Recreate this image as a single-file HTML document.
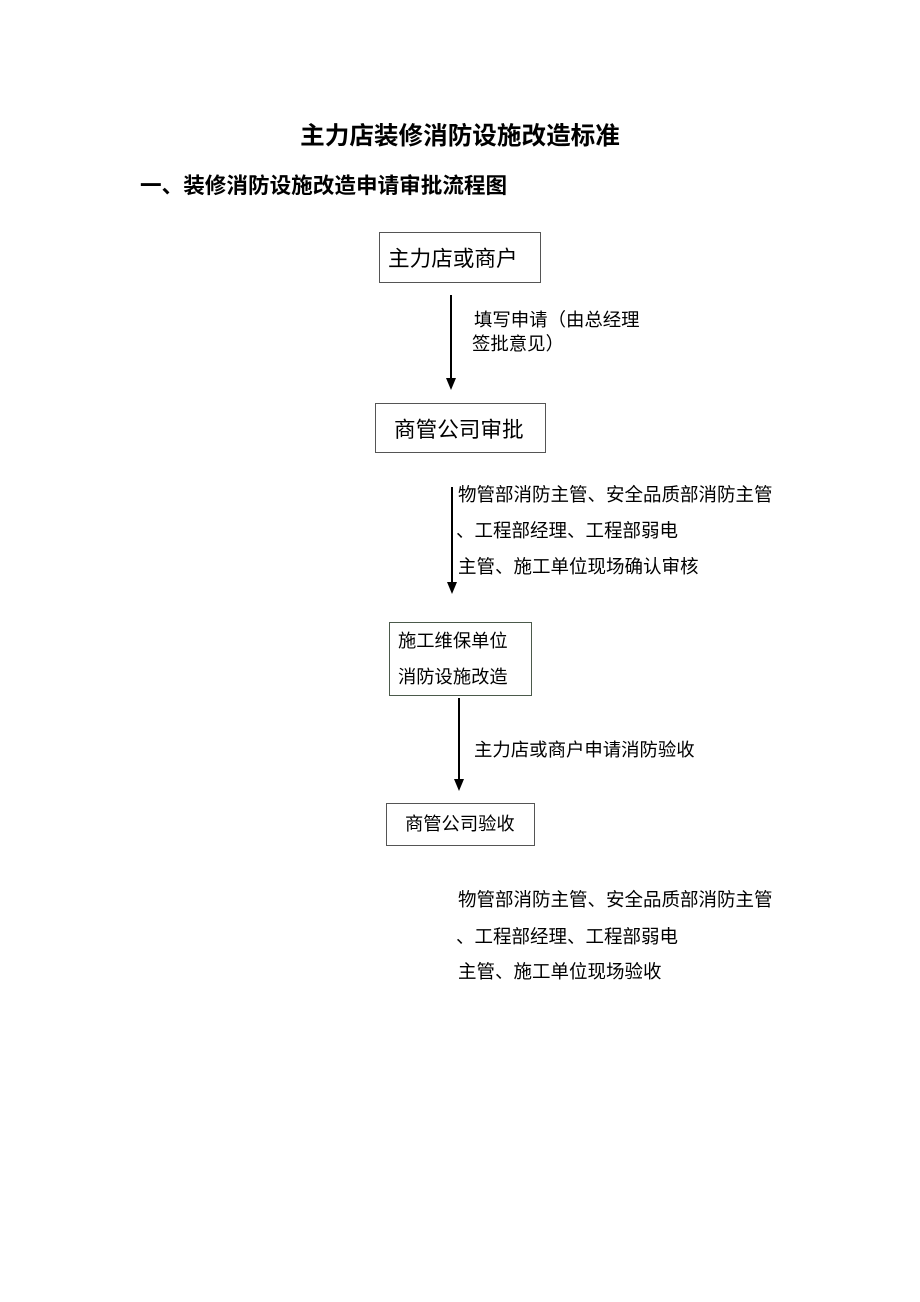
<!DOCTYPE html>
<html><head><meta charset="utf-8"><style>
body{margin:0;width:920px;height:1302px;background:#fff;position:relative;font-family:"Liberation Sans","Noto Sans CJK SC",sans-serif;color:#000;overflow:hidden}
.t{position:absolute;white-space:nowrap;line-height:1}
.b{position:absolute;box-sizing:border-box;border:1px solid #555}
.v{position:absolute;width:2px;background:#000}
.ah{position:absolute;width:0;height:0;border-left:5px solid transparent;border-right:5px solid transparent;border-top:12px solid #000}
</style></head><body>
<div class="t" style="left:0;width:920px;text-align:center;top:125px;font-size:24.6px;font-weight:bold">主力店装修消防设施改造标准</div>
<div class="t" style="left:140px;top:175px;font-size:21.6px;font-weight:bold">一、装修消防设施改造申请审批流程图</div>

<div class="b" style="left:379px;top:232px;width:162px;height:51px"></div>
<div class="t" style="left:388px;top:248px;font-size:21.6px">主力店或商户</div>
<div class="v" style="left:450px;top:295px;height:84px"></div>
<div class="ah" style="left:446px;top:378px"></div>
<div class="t" style="left:474px;top:311px;font-size:18.4px">填写申请（由总经理</div>
<div class="t" style="left:472px;top:335px;font-size:18.4px">签批意见）</div>

<div class="b" style="left:375px;top:403px;width:171px;height:50px"></div>
<div class="t" style="left:394px;top:419px;font-size:21.6px">商管公司审批</div>
<div class="v" style="left:451px;top:487px;height:96px"></div>
<div class="ah" style="left:447px;top:582px"></div>
<div class="t" style="left:458px;top:486px;font-size:18.5px">物管部消防主管、安全品质部消防主管</div>
<div class="t" style="left:456px;top:522px;font-size:18.5px">、工程部经理、工程部弱电</div>
<div class="t" style="left:458px;top:558px;font-size:18.5px">主管、施工单位现场确认审核</div>

<div class="b" style="left:389px;top:622px;width:143px;height:74px;border-color:#4b5a4b"></div>
<div class="t" style="left:398px;top:632px;font-size:18.3px">施工维保单位</div>
<div class="t" style="left:398px;top:668px;font-size:18.3px">消防设施改造</div>
<div class="v" style="left:458px;top:698px;height:82px"></div>
<div class="ah" style="left:454px;top:779px"></div>
<div class="t" style="left:474px;top:741px;font-size:18.4px">主力店或商户申请消防验收</div>

<div class="b" style="left:386px;top:803px;width:149px;height:43px"></div>
<div class="t" style="left:405px;top:815px;font-size:18.3px">商管公司验收</div>

<div class="t" style="left:458px;top:891px;font-size:18.5px">物管部消防主管、安全品质部消防主管</div>
<div class="t" style="left:456px;top:928px;font-size:18.5px">、工程部经理、工程部弱电</div>
<div class="t" style="left:458px;top:963px;font-size:18.5px">主管、施工单位现场验收</div>
</body></html>
